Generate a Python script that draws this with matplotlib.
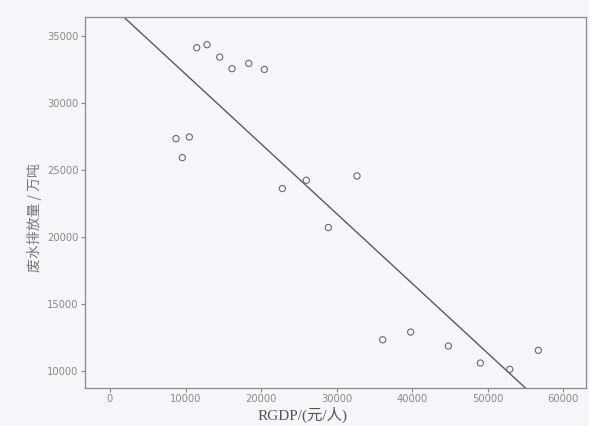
import numpy as np
import matplotlib
matplotlib.use("Agg")
import matplotlib.pyplot as plt

# Data
rgdp = [11483, 12848, 14530, 16159, 18371, 20437, 8742, 10508, 9581,
        22826, 26000, 32715, 28914, 36119, 39821, 44808, 49046, 52940, 56729]
wastewater = [34134, 34358, 33433, 32567, 32963, 32515, 27343, 27463, 25925,
              23612, 24231, 24552, 20701, 12313, 12888, 11843, 10575, 10104, 11522]
x_ticks = [0, 10000, 20000, 30000, 40000, 50000, 60000]
y_ticks = [10000, 15000, 20000, 25000, 30000, 35000]

bg = "#f4f6f9"
fig = plt.figure(figsize=(5.89, 4.26), dpi=100, facecolor=bg)
ax = fig.add_axes([0.1443, 0.0892, 0.8507, 0.8698], facecolor=bg)

ax.scatter(rgdp, wastewater, s=20, facecolors="none", edgecolors="#6a6a6a",
           linewidths=0.8, zorder=3)

coef = np.polyfit(rgdp, wastewater, 1)
xs = np.array([-5000, 70000])
ax.plot(xs, np.polyval(coef, xs), color="#5a5a5a", lw=1.0, zorder=2)

ax.set_xlim(-3311, 63046)
ax.set_ylim(8709, 36395)
ax.set_xticks(x_ticks)
ax.set_yticks(y_ticks)
ax.tick_params(axis="both", labelsize=7.2, colors="#8a8a8a", length=3, width=0.8,
               direction="out", pad=1.5)
for sp in ax.spines.values():
    sp.set_color("#8a8a8a")
    sp.set_linewidth(0.9)

fam = ["Liberation Serif", "Noto Sans CJK SC"]
ax.set_xlabel("RGDP/(元/人)", fontsize=11, family=fam, color="#555555")
ax.xaxis.set_label_coords(0.435, -0.05)
ax.set_ylabel("废水排放量 / 万吨", fontsize=10, family=["Noto Sans CJK SC"],
              color="#777777")
ax.yaxis.set_label_coords(-0.086, 0.461)

fig.savefig("out.png", dpi=100, facecolor=bg)
